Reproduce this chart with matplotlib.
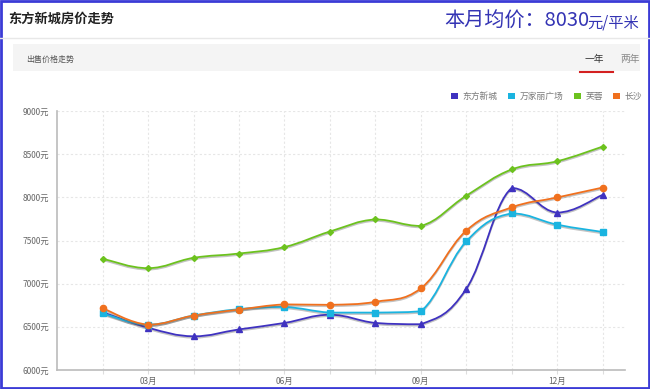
import matplotlib.pyplot as plt
import matplotlib.patheffects as pe
from matplotlib.path import Path
from matplotlib.patches import PathPatch, Rectangle
import numpy as np

plt.rcParams['font.family'] = ['Noto Sans CJK SC', 'DejaVu Sans']

months = ['02月', '03月', '04月', '05月', '06月', '07月', '08月', '09月', '10月', '11月', '12月', '01月']
dongfang = [6670, 6490, 6390, 6470, 6545, 6640, 6545, 6530, 6940, 8110, 7825, 8030]
wanjiali = [6655, 6525, 6630, 6705, 6730, 6665, 6665, 6680, 7490, 7815, 7685, 7600]
furong = [7290, 7180, 7300, 7350, 7425, 7605, 7745, 7670, 8020, 8325, 8420, 8590]
changsha = [6715, 6525, 6630, 6700, 6760, 6755, 6790, 6945, 7615, 7885, 8000, 8115]

series = [
    ('东方新城', dongfang, '#3f32c0', '^', 4),
    ('万家丽广场', wanjiali, '#1ab4e0', 's', 4.5),
    ('芙蓉', furong, '#6cc21e', 'D', 3),
    ('长沙', changsha, '#f0701e', 'o', 4.5),
]


def smooth_path(x, y, k=0.2):
    # cubic bezier through the points, control points kept inside each segment
    x = np.asarray(x, float)
    y = np.asarray(y, float)
    n = len(x)
    verts = [(x[0], y[0])]
    codes = [Path.MOVETO]
    for i in range(n - 1):
        i0 = max(i - 1, 0)
        i3 = min(i + 2, n - 1)
        lo, hi = min(y[i], y[i + 1]), max(y[i], y[i + 1])
        c1y = np.clip(y[i] + k * (y[i + 1] - y[i0]), lo, hi)
        c2y = np.clip(y[i + 1] - k * (y[i3] - y[i]), lo, hi)
        c1 = (x[i] + k * (x[i + 1] - x[i0]), c1y)
        c2 = (x[i + 1] - k * (x[i3] - x[i]), c2y)
        verts += [c1, c2, (x[i + 1], y[i + 1])]
        codes += [Path.CURVE4] * 3
    return Path(verts, codes)


fig = plt.figure(figsize=(6.5, 3.89), dpi=100)

# frame and header
fig.patches.append(Rectangle((0.002, 0.003), 0.996, 0.994, transform=fig.transFigure,
                             fill=False, edgecolor='#3b3bd6', linewidth=2))
fig.text(0.012, 0.952, '东方新城房价走势', fontsize=9.5, fontweight='bold', color='#222222',
         va='center')
fig.text(0.683, 0.946, '本月均价：8030', fontsize=14.5, color='#3434b4', va='center')
fig.text(0.904, 0.942, '元/平米', fontsize=11, color='#3434b4', va='center')
fig.lines.append(plt.Line2D([0.0, 1.0], [0.902, 0.902], transform=fig.transFigure,
                            color='#e8e8e8', linewidth=1))
fig.patches.append(Rectangle((0.02, 0.818), 0.965, 0.068, transform=fig.transFigure,
                             facecolor='#f4f4f4', edgecolor='none'))
fig.text(0.04, 0.848, '出售价格走势', fontsize=5.8, color='#555555', va='center')
fig.text(0.9, 0.848, '一年', fontsize=7, color='#333333', va='center')
fig.text(0.955, 0.848, '两年', fontsize=7, color='#888888', va='center')
fig.lines.append(plt.Line2D([0.892, 0.943], [0.816, 0.816], transform=fig.transFigure,
                            color='#d42020', linewidth=1.5))

ax = fig.add_axes([0.088, 0.049, 0.874, 0.665])
x = np.arange(len(months))

for name, vals, color, marker, ms in series:
    patch = PathPatch(smooth_path(x, np.array(vals) / 1000.0), facecolor='none',
                      edgecolor=color, linewidth=1.3, zorder=3,
                      path_effects=[pe.SimpleLineShadow(offset=(0, -1), shadow_color='#555555', alpha=0.35),
                                    pe.Normal()])
    ax.add_patch(patch)
    ax.plot(x, np.array(vals) / 1000.0, linestyle='none', marker=marker, markersize=ms,
            color=color, zorder=4, label=name)

ax.set_xlim(-1, 11.5)
ax.set_ylim(6.0, 9.0)
ax.set_yticks([6.0, 6.5, 7.0, 7.5, 8.0, 8.5, 9.0])
ax.set_yticklabels(['%d元' % (v * 1000) for v in [6.0, 6.5, 7.0, 7.5, 8.0, 8.5, 9.0]])
ax.set_xticks(x)
ax.set_xticklabels([m if i % 3 == 1 else '' for i, m in enumerate(months)])
ax.tick_params(axis='y', length=0, labelsize=6, labelcolor='#666666', pad=6)
ax.tick_params(axis='x', length=3, color='#dddddd', labelsize=6, labelcolor='#666666', pad=2)
ax.grid(True, linestyle=(0, (2, 2)), color='#e6e6e6', linewidth=0.8)
for s in ['top', 'right']:
    ax.spines[s].set_visible(False)
for s in ['left', 'bottom']:
    ax.spines[s].set_color('#bbbbbb')
    ax.spines[s].set_linewidth(1.2)

handles = [Rectangle((0, 0), 1, 1, facecolor=c, edgecolor='none') for _, _, c, _, _ in series]
leg = fig.legend(handles, [s[0] for s in series], loc='center right',
                 bbox_to_anchor=(1.0, 0.752), ncol=4, frameon=False, fontsize=6.3,
                 handlelength=0.8, handleheight=0.8, handletextpad=0.5, columnspacing=1.2)
for t in leg.get_texts():
    t.set_color('#777777')

fig.savefig('out.png', dpi=100)
